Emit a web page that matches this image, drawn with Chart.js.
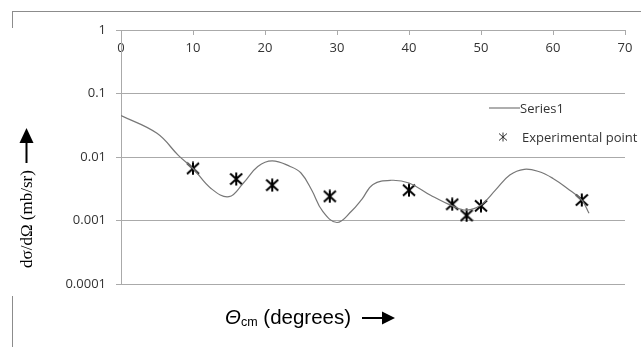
<!DOCTYPE html>
<html>
<head>
<meta charset="utf-8">
<script src="https://cdn.jsdelivr.net/npm/chart.js@4.4.1/dist/chart.umd.min.js"></script>
<style>
body { margin: 0; background: #fff; }
#wrap { position: relative; width: 641px; height: 347px; overflow: hidden; background: #fff; }
#c { position: absolute; left: 0; top: 0; }
.ln { position: absolute; background: #8c8c8c; }
#ytitle { position: absolute; left: -33px; top: 209px; width: 120px; height: 20px; line-height: 20px;
  text-align: center; transform: rotate(-90deg); font: 17px "Liberation Serif", "DejaVu Serif", serif; color: #000; white-space: nowrap; }
#xtitle { position: absolute; left: 225px; top: 305px; height: 22px; line-height: 22px;
  font: 20.5px "Liberation Sans", Arial, sans-serif; color: #000; white-space: nowrap; }
#xtitle .th { font-style: italic; }
#xtitle .sub { font-size: 12.5px; vertical-align: -2px; }
svg { position: absolute; left: 0; top: 0; }
</style>
</head>
<body>
<div id="wrap">
  <canvas id="c" width="641" height="347"></canvas>
  <div class="ln" style="left:12px;top:11px;width:629px;height:1px"></div>
  <div class="ln" style="left:12px;top:11px;width:1px;height:17px"></div>
  <div class="ln" style="left:12px;top:296px;width:1px;height:51px"></div>
  <div id="ytitle">dσ/dΩ (mb/sr)</div>
  <div id="xtitle"><span class="th">Θ</span><span class="sub">cm</span> (degrees)</div>
  <svg width="641" height="347">
    <line x1="26.5" y1="163" x2="26.5" y2="140" stroke="#000" stroke-width="2"/>
    <polygon points="19.5,143 33.5,143 26.5,128" fill="#000"/>
    <line x1="362" y1="318" x2="384" y2="318" stroke="#000" stroke-width="2"/>
    <polygon points="382,311.5 382,324.5 395,318" fill="#000"/>
  </svg>
</div>
<script>
// fitted curve (Series1)
const curveAngles = [0, 5, 8, 10, 12.5, 15, 17, 19, 21, 23.5, 25, 26.5, 28, 30, 32, 33.5, 35, 37.5, 40, 43, 46, 48, 50, 52, 54, 56, 58, 60, 62, 64, 65];
const curveValues = [0.045, 0.0236, 0.0105, 0.0066, 0.0032, 0.00237, 0.0039, 0.0071, 0.0087, 0.0071, 0.0056, 0.003, 0.0014, 0.00093, 0.0014, 0.0022, 0.0037, 0.0043, 0.0039, 0.0025, 0.0017, 0.00146, 0.00175, 0.003, 0.0052, 0.0064, 0.0059, 0.0046, 0.0032, 0.0021, 0.0013];

// measured points
const expAngles = [10, 16, 21, 29, 40, 46, 48, 50, 64];
const expValues = [0.0066, 0.0045, 0.0036, 0.0024, 0.0030, 0.0018, 0.0012, 0.0017, 0.0021];

const yTicks = [0.0001, 0.001, 0.01, 0.1, 1];
const yTickLabels = ["0.0001", "0.001", "0.01", "0.1", "1"];
const seriesNames = ["Series1", "Experimental point"];

const tickFont = { family: "'Open Sans', sans-serif", size: 13 };
const gridColor = "#aaaaaa";

const starMarker = (size, lw, color) => {
    const c = document.createElement("canvas");
    c.width = size; c.height = size;
    const g = c.getContext("2d");
    g.strokeStyle = color;
    g.lineWidth = lw;
    const m = size / 2;
    g.beginPath();
    g.moveTo(m, 0.5); g.lineTo(m, size - 0.5);
    g.moveTo(1, 1.5); g.lineTo(size - 1, size - 1.5);
    g.moveTo(size - 1, 1.5); g.lineTo(1, size - 1.5);
    g.stroke();
    return c;
};

const bigStar = starMarker(14, 2, "#000");
const smallStar = starMarker(10, 1, "#333");

// legend drawn inside the plot, right side
const insideLegend = {
    id: "insideLegend",
    afterDraw(chart) {
        const ctx = chart.ctx;
        const ds = chart.data.datasets;
        ctx.save();
        ctx.font = "13px 'Open Sans', sans-serif";
        ctx.fillStyle = "#333";
        ctx.textBaseline = "middle";
        ctx.strokeStyle = ds[0].borderColor;
        ctx.lineWidth = 1.2;
        ctx.beginPath();
        ctx.moveTo(489, 108);
        ctx.lineTo(520, 108);
        ctx.stroke();
        ctx.fillText(ds[0].label, 520, 109);
        ctx.drawImage(smallStar, 503 - 5, 137 - 5);
        ctx.fillText(ds[1].label, 522, 138);
        ctx.restore();
    }
};

new Chart(document.getElementById("c"), {
    type: "scatter",
    data: {
        datasets: [{
            label: seriesNames[0],
            data: curveAngles.map((a, i) => ({ x: a, y: curveValues[i] })),
            showLine: true,
            borderColor: "#777777",
            borderWidth: 1.2,
            pointRadius: 0,
            tension: 0.4,
            fill: false
        }, {
            label: seriesNames[1],
            data: expAngles.map((a, i) => ({ x: a, y: expValues[i] })),
            showLine: false,
            pointStyle: bigStar,
            pointRadius: 7
        }]
    },
    options: {
        responsive: false,
        animation: false,
        layout: { padding: { left: 0, top: 30, right: 16, bottom: 63 } },
        plugins: { legend: { display: false }, tooltip: { enabled: false } },
        scales: {
            x: {
                type: "linear",
                position: { y: 1 },
                min: 0, max: 70,
                ticks: { stepSize: 10, padding: 6, font: tickFont, color: "#333" },
                grid: { drawOnChartArea: false, tickLength: 4, color: gridColor },
                border: { color: gridColor }
            },
            y: {
                type: "logarithmic",
                position: "left",
                min: 0.0001, max: 1,
                afterBuildTicks: s => { s.ticks = yTicks.map(v => ({ value: v })); },
                afterFit: s => { s.width = 121; },
                ticks: { padding: 10, font: tickFont, color: "#333", callback: (v, i) => yTickLabels[i] },
                grid: { color: gridColor, tickLength: 5 },
                border: { color: gridColor }
            }
        }
    },
    plugins: [insideLegend]
});
</script>
</body>
</html>
